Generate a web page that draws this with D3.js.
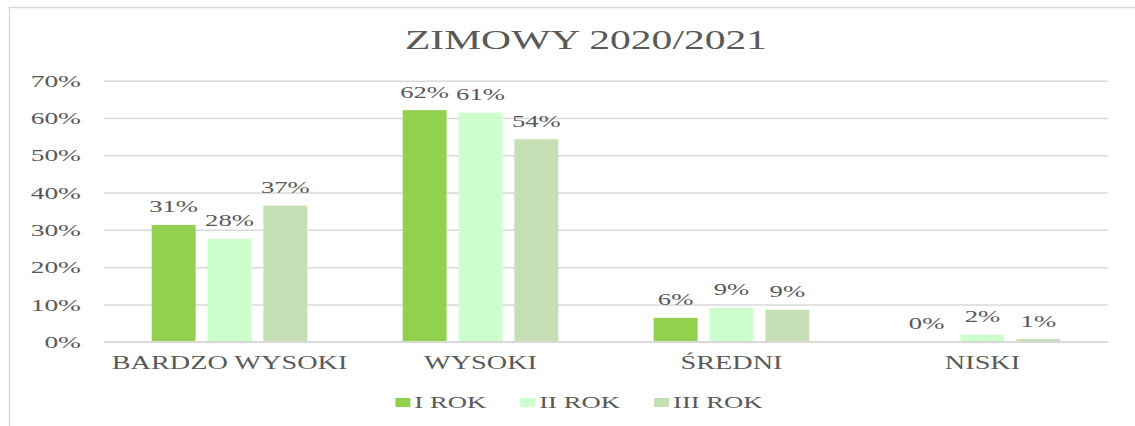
<!DOCTYPE html>
<html>
<head>
<meta charset="utf-8">
<script src="https://cdn.jsdelivr.net/npm/d3@7"></script>
<style>
  html, body { margin: 0; padding: 0; background: #fff; }
  svg { display: block; }
  text { font-family: "Liberation Serif", "Times New Roman", serif; fill: #595959; }
</style>
</head>
<body>
<div id="chart"></div>
<script>
// data
const categories = ["BARDZO WYSOKI", "WYSOKI", "ŚREDNI", "NISKI"];
const seriesNames = ["I ROK", "II ROK", "III ROK"];
const seriesColors = ["#92d050", "#ccffcc", "#c5e0b4"];
const rok1 = [31.3, 62.1, 6.4, 0];
const rok2 = [27.6, 61.4, 9.1, 1.9];
const rok3 = [36.5, 54.3, 8.6, 0.7];
const yTicks = [0, 10, 20, 30, 40, 50, 60, 70];
const title = "ZIMOWY 2020/2021";

const W = 1135, H = 426;
const SX = 1.57; // the source picture is stretched sideways
const margin = { left: 104, right: 27, top: 80.7, bottom: 84.3 };
const plotW = W - margin.left - margin.right;
const plotH = H - margin.top - margin.bottom;

const svg = d3.select("#chart").append("svg")
    .attr("width", W)
    .attr("height", H);

// outer frame (only top and left edges show)
svg.append("path")
    .attr("d", `M9.5,${H} V7.5 H${W}`)
    .attr("fill", "none")
    .attr("stroke", "#d9d9d9")
    .attr("stroke-width", 1.5);

// stretched text helper
function sText(parent, x, y, str, size, anchor) {
    const g = parent.append("g").attr("transform", `translate(${x},${y}) scale(${SX},1)`);
    return g.append("text")
        .attr("text-anchor", anchor || "middle")
        .style("font-size", size + "px")
        .text(str);
}

sText(svg, 586, 48.5, title, 26.5);

const g = svg.append("g").attr("transform", `translate(${margin.left},${margin.top})`);

const x0 = d3.scaleBand().domain(categories).range([0, plotW]).paddingInner(0.38).paddingOuter(0.19);
const x1 = d3.scaleBand().domain(seriesNames).range([0, x0.bandwidth()]).paddingInner(0.214).paddingOuter(0);
const y = d3.scaleLinear().domain([0, 70]).range([plotH, 0]);

// gridlines + y labels
const yAxis = g.append("g")
    .call(d3.axisLeft(y).tickValues(yTicks).tickSize(-plotW).tickFormat(d => d + "%"));
yAxis.select(".domain").remove();
yAxis.selectAll(".tick line").attr("stroke", "#d9d9d9").attr("stroke-width", 1.5);
yAxis.selectAll(".tick text")
    .attr("x", -23 / SX)
    .attr("dy", "0.32em")
    .attr("transform", `scale(${SX},1)`)
    .attr("fill", "#595959")
    .style("font-size", "17.5px");

// bars
const series = [rok1, rok2, rok3];
const barData = [];
series.forEach((vals, si) => {
    vals.forEach((v, ci) => barData.push({ s: si, c: categories[ci], v }));
});

g.selectAll("rect.bar")
    .data(barData)
    .enter().append("rect")
    .attr("class", "bar")
    .attr("x", d => x0(d.c) + x1(seriesNames[d.s]))
    .attr("y", d => y(d.v))
    .attr("width", x1.bandwidth())
    .attr("height", d => plotH - y(d.v))
    .attr("fill", d => seriesColors[d.s]);

// bottom axis line drawn on top of bars
g.append("line")
    .attr("x1", 0).attr("x2", plotW)
    .attr("y1", plotH).attr("y2", plotH)
    .attr("stroke", "#d9d9d9").attr("stroke-width", 1.5);

// value labels
barData.forEach(d => {
    sText(g, x0(d.c) + x1(seriesNames[d.s]) + x1.bandwidth() / 2, y(d.v) - 12.5,
        Math.round(d.v) + "%", 17);
});

// category labels
categories.forEach(c => {
    sText(g, x0(c) + x0.bandwidth() / 2, plotH + 27.5, c, 18);
});

// legend
const legend = svg.append("g");
let lx = 0;
seriesNames.forEach((name, i) => {
    const it = legend.append("g");
    it.append("rect")
        .attr("x", 0).attr("y", -10)
        .attr("width", 15).attr("height", 9)
        .attr("fill", seriesColors[i]);
    const t = sText(it, 19, 0, name, 17, "start");
    const w = 19 + t.node().getComputedTextLength() * SX;
    it.attr("transform", `translate(${lx},0)`);
    lx += w + 34;
});
const legW = lx - 34;
legend.attr("transform", `translate(${579 - legW / 2},408)`);
</script>
</body>
</html>
